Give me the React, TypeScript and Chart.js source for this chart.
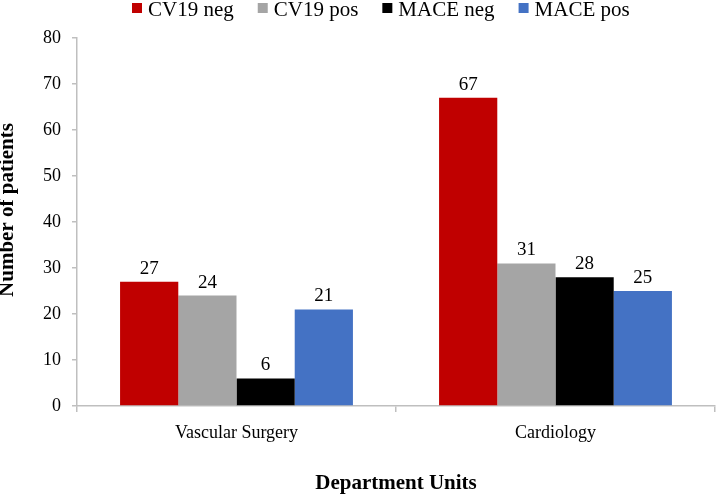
import React, { useEffect, useRef } from "react";
import { Chart, registerables } from "chart.js";

Chart.register(...registerables);

const categories = ["Vascular Surgery", "Cardiology"];
const seriesLabels = ["CV19 neg", "CV19 pos", "MACE neg", "MACE pos"];
const cv19Neg = [27, 67];
const cv19Pos = [24, 31];
const maceNeg = [6, 28];
const macePos = [21, 25];
const seriesColors = ["#C00000", "#A5A5A5", "#000000", "#4472C4"];
const yTicks = [0, 10, 20, 30, 40, 50, 60, 70, 80];

const SERIF = "'Liberation Serif', 'Times New Roman', serif";

const decorPlugin = {
  id: "decor",
  afterDatasetsDraw(chart: any) {
    const ctx = chart.ctx;
    ctx.save();
    ctx.font = `19px ${SERIF}`;
    ctx.fillStyle = "#000";
    ctx.textAlign = "center";
    ctx.textBaseline = "alphabetic";
    chart.data.datasets.forEach((ds: any, i: number) => {
      const meta = chart.getDatasetMeta(i);
      meta.data.forEach((bar: any, j: number) => {
        ctx.fillText(String(ds.data[j]), bar.x, bar.y - 8);
      });
    });
    ctx.restore();
  },
  afterDraw(chart: any) {
    const ctx = chart.ctx;
    ctx.save();
    // legend
    ctx.font = `21px ${SERIF}`;
    ctx.textAlign = "left";
    ctx.textBaseline = "alphabetic";
    let x = 132;
    chart.data.datasets.forEach((ds: any) => {
      ctx.fillStyle = ds.backgroundColor;
      ctx.fillRect(x, 3, 10, 10);
      ctx.fillStyle = "#000";
      ctx.fillText(ds.label, x + 16, 16);
      x += 16 + ctx.measureText(ds.label).width + 24;
    });
    // y axis title
    const area = chart.chartArea;
    ctx.font = `bold 21px ${SERIF}`;
    ctx.textAlign = "center";
    ctx.textBaseline = "middle";
    ctx.translate(8, (area.top + area.bottom) / 2 - 12);
    ctx.rotate(-Math.PI / 2);
    ctx.fillText("Number of patients", 0, 0);
    ctx.restore();
  },
};

export default function App() {
  const ref = useRef<HTMLCanvasElement | null>(null);
  useEffect(() => {
    document.body.style.margin = "0";
    if (!ref.current) return;
    const values = [cv19Neg, cv19Pos, maceNeg, macePos];
    const chart = new Chart(ref.current, {
      type: "bar",
      data: {
        labels: categories,
        datasets: seriesLabels.map((label, i) => ({
          label,
          data: values[i],
          backgroundColor: seriesColors[i],
          borderWidth: 0,
          categoryPercentage: 0.73,
          barPercentage: 1.0,
        })),
      },
      options: {
        animation: false,
        responsive: true,
        maintainAspectRatio: false,
        layout: { padding: { top: 38, right: 1, left: 0, bottom: 0 } },
        plugins: {
          legend: { display: false },
          tooltip: { enabled: false },
        },
        scales: {
          x: {
            type: "category",
            offset: true,
            grid: {
              display: true,
              drawOnChartArea: false,
              drawTicks: true,
              tickLength: 6,
              offset: true,
              color: "#BFBFBF",
              lineWidth: 1.5,
            },
            border: { display: true, color: "#BFBFBF", width: 1.5 },
            ticks: {
              color: "#000",
              font: { family: SERIF, size: 18 },
              padding: 10,
              maxRotation: 0,
            },
            title: {
              display: true,
              text: "Department Units",
              color: "#000",
              font: { family: SERIF, size: 21, weight: "bold", lineHeight: 1.0 },
              padding: { top: 0, bottom: 1.5 },
            },
            afterFit: (s: any) => {
              s.height = 90;
            },
          },
          y: {
            min: 0,
            max: 80,
            afterBuildTicks: (s: any) => {
              s.ticks = yTicks.map((v) => ({ value: v }));
            },
            grid: {
              display: true,
              drawOnChartArea: false,
              drawTicks: true,
              tickLength: 5,
              color: "#BFBFBF",
              lineWidth: 1.5,
            },
            border: { display: true, color: "#BFBFBF", width: 1.5 },
            ticks: {
              color: "#000",
              font: { family: SERIF, size: 18 },
              padding: 11,
            },
            afterFit: (s: any) => {
              s.width = 77;
            },
          },
        },
      },
      plugins: [decorPlugin],
    });
    return () => chart.destroy();
  }, []);
  return (
    <div style={{ width: 716, height: 496, position: "relative" }}>
      <canvas ref={ref} />
    </div>
  );
}
